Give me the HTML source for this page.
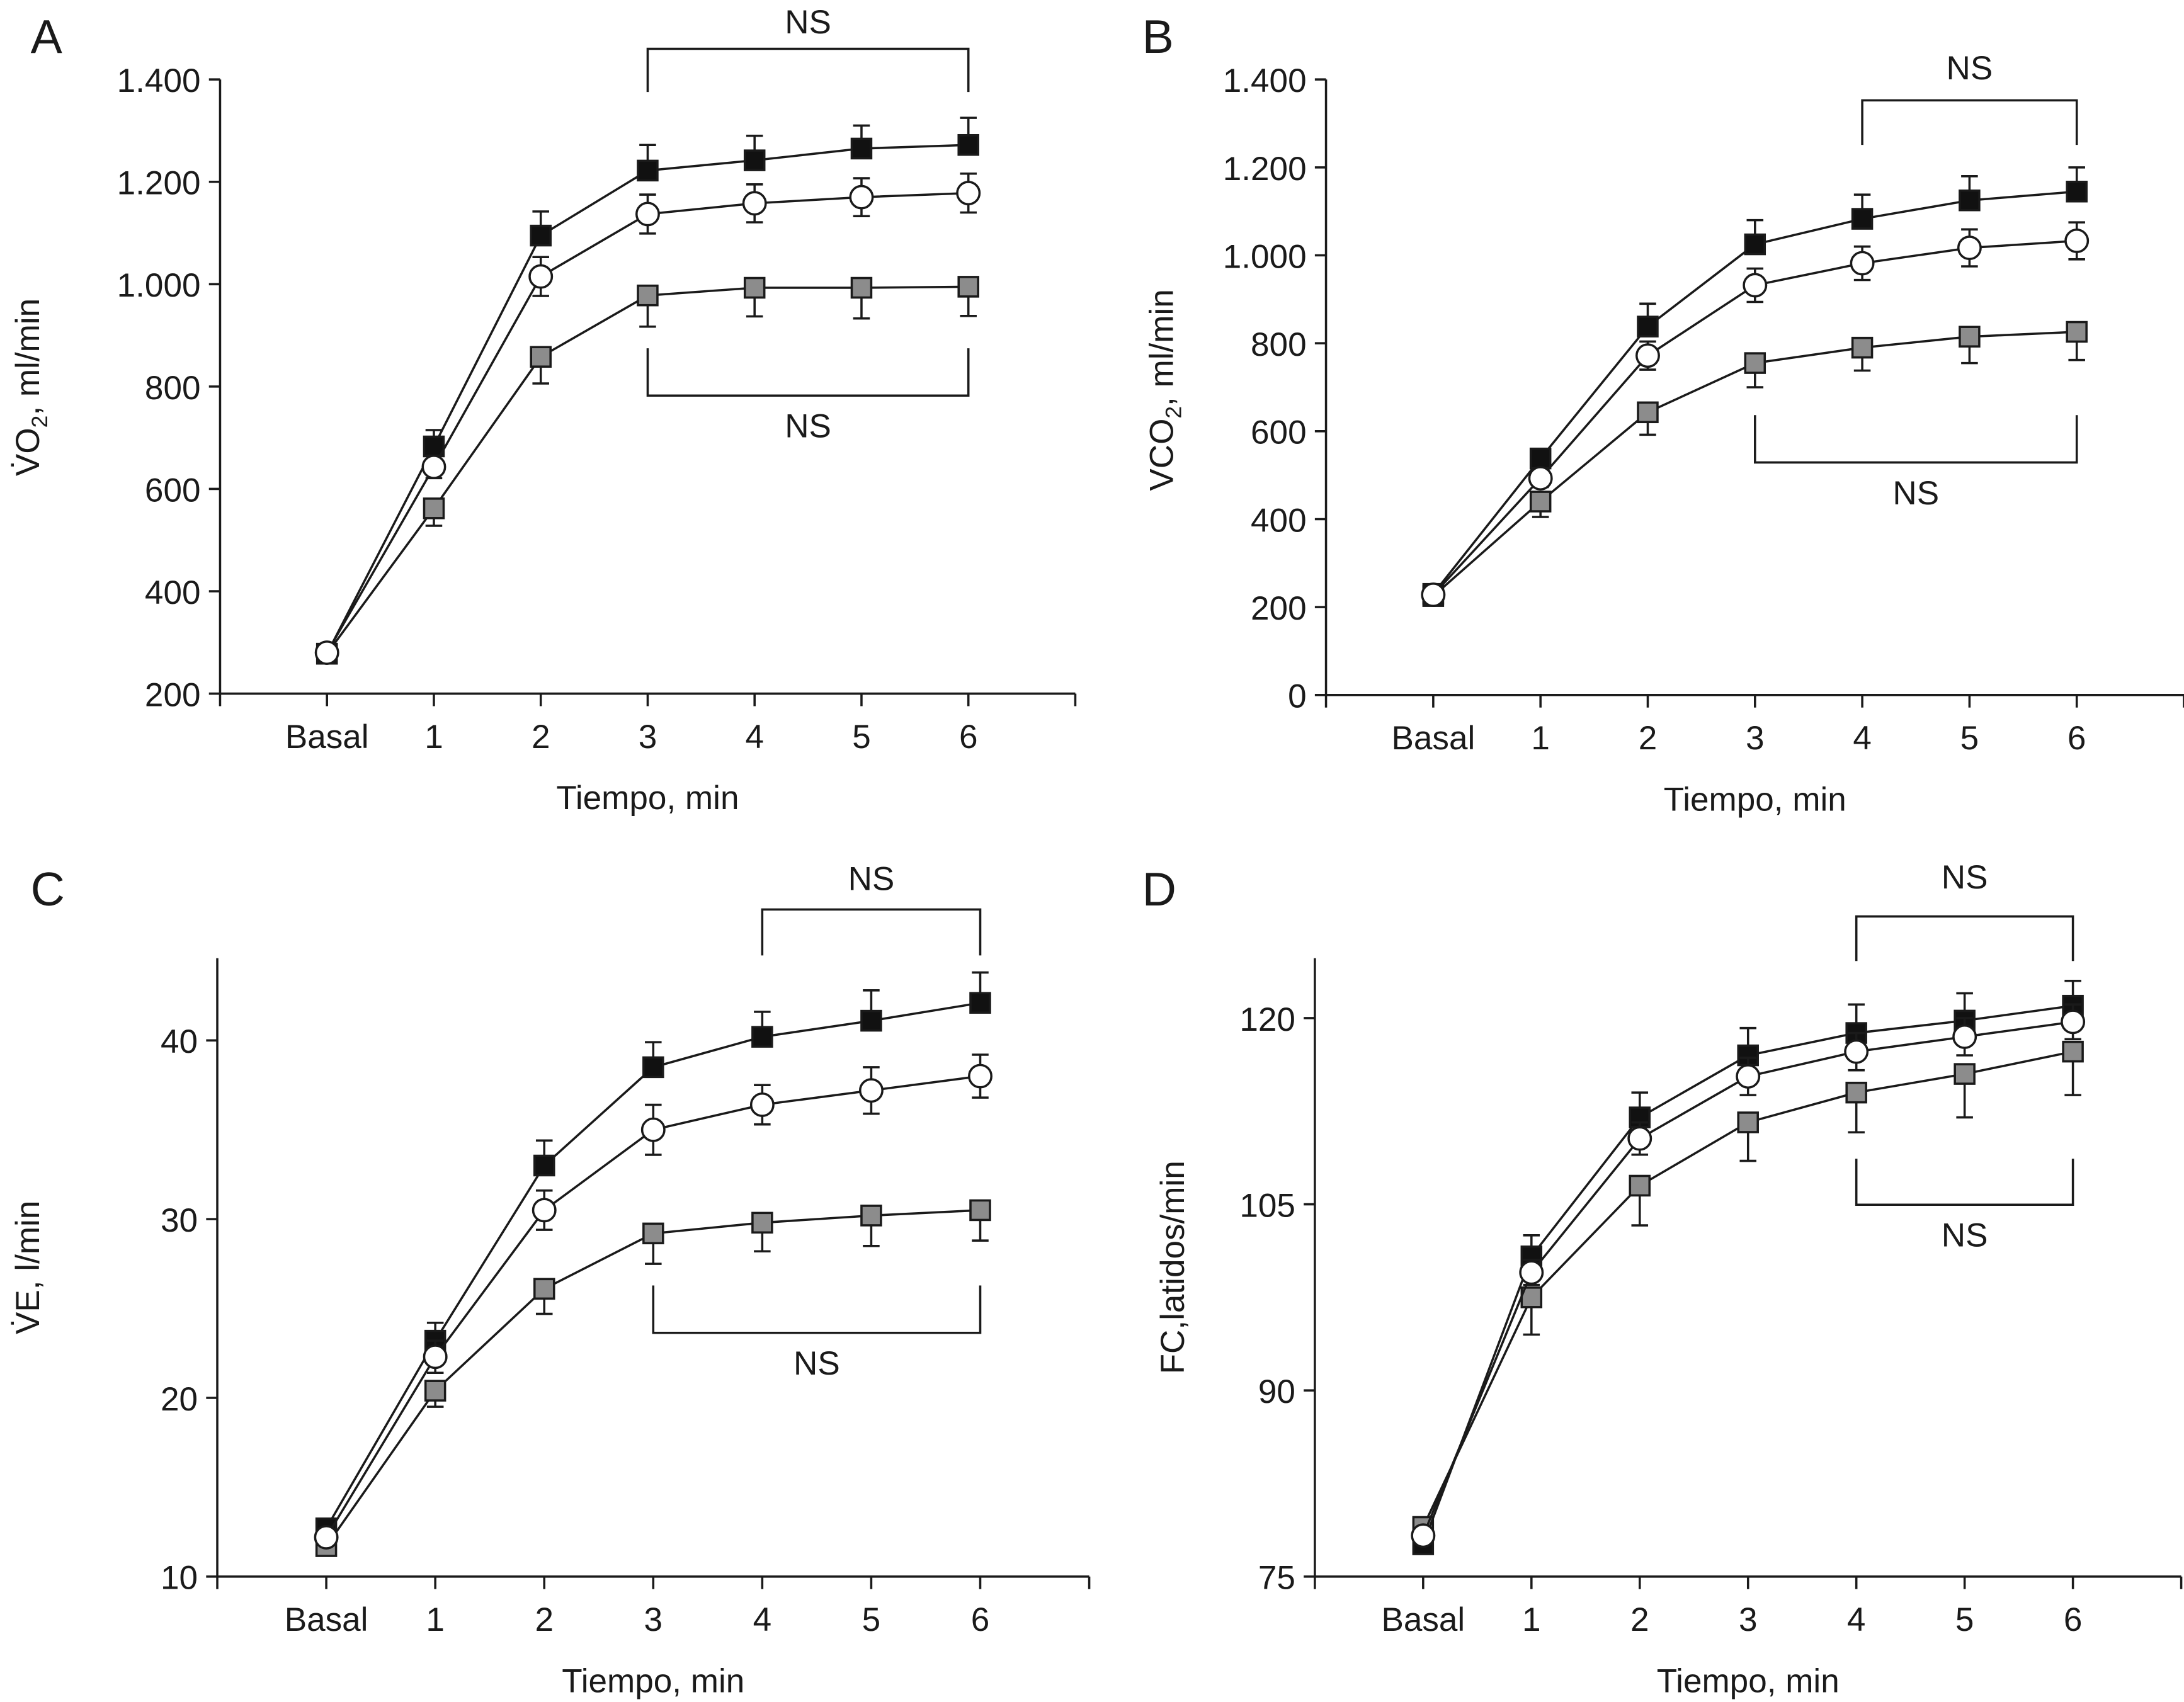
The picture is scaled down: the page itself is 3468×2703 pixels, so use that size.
<!DOCTYPE html>
<html><head><meta charset="utf-8"><style>
html,body{margin:0;padding:0;background:#fff;}
svg{display:block;}
text{font-family:"Liberation Sans",sans-serif;fill:#1a1a1a;}
</style></head><body>
<svg id="fig" width="3468" height="2703" viewBox="0 0 1568 1222" xmlns="http://www.w3.org/2000/svg"></svg>
<script>
const categories=["Basal","1","2","3","4","5","6"];
// Panel A VO2
const aBlack=[278,683,1095,1222,1242,1265,1272];
const aBlackErr=[0,32,47,50,48,45,53];
const aOpen=[280,643,1015,1137,1158,1170,1178];
const aOpenErr=[0,22,38,38,37,37,38];
const aGray=[278,562,858,978,993,993,995];
const aGrayErr=[0,34,52,61,56,60,57];
const aTicks=[200,400,600,800,1000,1200,1400];
const aTickLabels=["200","400","600","800","1.000","1.200","1.400"];
// Panel B VCO2
const bBlack=[230,538,838,1025,1083,1125,1145];
const bBlackErr=[0,22,52,55,55,55,55];
const bOpen=[228,493,772,932,982,1017,1033];
const bOpenErr=[0,20,32,38,38,42,42];
const bGray=[225,440,643,755,790,815,826];
const bGrayErr=[0,35,51,55,52,60,64];
const bTicks=[0,200,400,600,800,1000,1200,1400];
const bTickLabels=["0","200","400","600","800","1.000","1.200","1.400"];
// Panel C VE
const cBlack=[12.7,23.2,33.0,38.5,40.2,41.1,42.1];
const cBlackErr=[0,1.0,1.4,1.4,1.4,1.7,1.7];
const cOpen=[12.2,22.3,30.5,35.0,36.4,37.2,38.0];
const cOpenErr=[0,0.9,1.1,1.4,1.1,1.3,1.2];
const cGray=[11.7,20.4,26.1,29.2,29.8,30.2,30.5];
const cGrayErr=[0,0.9,1.4,1.7,1.6,1.7,1.7];
const cTicks=[10,20,30,40];
const cTickLabels=["10","20","30","40"];
// Panel D FC
const dBlack=[77.6,100.8,112.0,117.0,118.8,119.8,121.0];
const dBlackErr=[0,1.7,2.0,2.2,2.3,2.2,2.0];
const dOpen=[78.3,99.5,110.3,115.3,117.3,118.5,119.7];
const dOpenErr=[0,1.0,1.3,1.5,1.5,1.5,1.4];
const dGray=[79.0,97.5,106.5,111.6,114.0,115.5,117.3];
const dGrayErr=[0,3.0,3.2,3.1,3.2,3.5,3.5];
const dTicks=[75,90,105,120];
const dTickLabels=["75","90","105","120"];

const NS="http://www.w3.org/2000/svg";
const svg=document.getElementById('fig');
function mk(tag,attrs,parent){const e=document.createElementNS(NS,tag);for(const k in attrs)e.setAttribute(k,attrs[k]);(parent||svg).appendChild(e);return e;}

function panel(cfg){
  const g=mk('g',{});
  
  
  const xs=i=>cfg.x0+(i+1)*(cfg.x1-cfg.x0)/8;
  const ys=v=>cfg.yA+(v-cfg.vA)*(cfg.yB-cfg.yA)/(cfg.vB-cfg.vA);
  const st={stroke:'#1a1a1a','stroke-width':1.6,fill:'none'};
  const ya=mk('line',Object.assign({x1:cfg.x0,y1:cfg.yTop,x2:cfg.x0,y2:cfg.yBase},st),g);
  
  const xa=mk('line',Object.assign({x1:cfg.x0,y1:cfg.yBase,x2:cfg.x1,y2:cfg.yBase},st),g);
  
  cfg.ticks.forEach((t,i)=>{
    const y=ys(t);
    mk('line',Object.assign({x1:cfg.x0-8,y1:y,x2:cfg.x0,y2:y},st),g);
    const tx=mk('text',{x:cfg.x0-14,y:y+9,'text-anchor':'end','font-size':24},g);
    
    tx.textContent=cfg.tickLabels[i];
  });
  for(let i=-1;i<=7;i++){
    const x=cfg.x0+(i+1)*(cfg.x1-cfg.x0)/8;
    mk('line',Object.assign({x1:x,y1:cfg.yBase,x2:x,y2:cfg.yBase+9},st),g);
  }
  categories.forEach((c,i)=>{
    const tx=mk('text',{x:xs(i),y:cfg.yBase+39,'text-anchor':'middle','font-size':24},g);
    
    tx.textContent=c;
  });
  const xl=mk('text',{x:xs(3),y:cfg.yBase+83,'text-anchor':'middle','font-size':24},g);
  
  xl.textContent='Tiempo, min';
  const yl=mk('text',{x:0,y:0,'text-anchor':'middle','font-size':24,transform:`translate(${cfg.ylx},${cfg.yly}) rotate(-90)`},g);
  
  yl.innerHTML=cfg.ylabel;
  const pl=mk('text',{x:cfg.lx,y:cfg.ly,'font-size':34},g);
  
  pl.textContent=cfg.letter;
  cfg.brackets.forEach(b=>{
    const xa_=xs(b.from),xb=xs(b.to);
    const p=mk('path',Object.assign({d:`M${xa_},${b.yEnd} L${xa_},${b.yH} L${xb},${b.yH} L${xb},${b.yEnd}`},st),g);
    
    const t=mk('text',{x:(xa_+xb)/2,y:b.ty,'text-anchor':'middle','font-size':24},g);
    
    t.textContent='NS';
  });
  const series=[
    {v:cfg.gray,e:cfg.grayErr,kind:'gray',dir:1},
    {v:cfg.black,e:cfg.blackErr,kind:'black',dir:-1},
    {v:cfg.open,e:cfg.openErr,kind:'open',dir:0}
  ];
  series.forEach(s=>{
    const sg=mk('g',{},g);
    
    
    const d=s.v.map((v,i)=>(i?'L':'M')+xs(i)+','+ys(v)).join(' ');
    mk('path',{d:d,stroke:'#1a1a1a','stroke-width':1.6,fill:'none'},sg);
    s.v.forEach((v,i)=>{
      if(!s.e[i])return;
      const x=xs(i),y=ys(v);
      const ends=s.dir===0?[ys(v+s.e[i]),ys(v-s.e[i])]:[ys(v-s.dir*s.e[i])];
      ends.forEach(ye=>{
        mk('line',{x1:x,y1:y,x2:x,y2:ye,stroke:'#1a1a1a','stroke-width':1.6},sg);
        mk('line',{x1:x-6,y1:ye,x2:x+6,y2:ye,stroke:'#1a1a1a','stroke-width':1.6},sg);
      });
    });
    s.v.forEach((v,i)=>{
      const x=xs(i),y=ys(v);let m;
      if(s.kind==='open'){m=mk('circle',{cx:x,cy:y,r:8,fill:'#fff',stroke:'#1a1a1a','stroke-width':1.6},sg);}
      else{m=mk('rect',{x:x-7,y:y-7,width:14,height:14,fill:s.kind==='black'?'#111':'#8c8c8c',stroke:'#1a1a1a','stroke-width':1.6},sg);}
      
      
    });
  });
}

panel({name:'panel-a-vo2',letter:'A',lx:22,ly:38,x0:158,x1:772,yTop:57,yBase:498,yA:57,vA:1400,yB:498,vB:200,
 ticks:aTicks,tickLabels:aTickLabels,ylx:28,yly:278,ylabel:'V̇O<tspan font-size="16" dy="6">2</tspan><tspan dy="-6">, ml/min</tspan>',
 black:aBlack,blackErr:aBlackErr,open:aOpen,openErr:aOpenErr,gray:aGray,grayErr:aGrayErr,
 brackets:[{from:3,to:6,yH:35,yEnd:66,ty:24},{from:3,to:6,yH:284,yEnd:250,ty:314}]});
panel({name:'panel-b-vco2',letter:'B',lx:820,ly:38,x0:952,x1:1568,yTop:57,yBase:499,yA:57,vA:1400,yB:499,vB:0,
 ticks:bTicks,tickLabels:bTickLabels,ylx:842,yly:280,ylabel:'VCO<tspan font-size="16" dy="6">2</tspan><tspan dy="-6">, ml/min</tspan>',
 black:bBlack,blackErr:bBlackErr,open:bOpen,openErr:bOpenErr,gray:bGray,grayErr:bGrayErr,
 brackets:[{from:4,to:6,yH:72,yEnd:104,ty:57},{from:3,to:6,yH:332,yEnd:298,ty:362}]});
panel({name:'panel-c-ve',letter:'C',lx:22,ly:650,x0:156,x1:782,yTop:688,yBase:1132,yA:747,vA:40,yB:1132,vB:10,
 ticks:cTicks,tickLabels:cTickLabels,ylx:28,yly:910,ylabel:'V̇E, l/min',
 black:cBlack,blackErr:cBlackErr,open:cOpen,openErr:cOpenErr,gray:cGray,grayErr:cGrayErr,
 brackets:[{from:4,to:6,yH:653,yEnd:686,ty:639},{from:3,to:6,yH:957,yEnd:923,ty:987}]});
panel({name:'panel-d-fc',letter:'D',lx:820,ly:650,x0:944,x1:1566,yTop:688,yBase:1132,yA:731,vA:120,yB:1132,vB:75,
 ticks:dTicks,tickLabels:dTickLabels,ylx:850,yly:910,ylabel:'FC,latidos/min',
 black:dBlack,blackErr:dBlackErr,open:dOpen,openErr:dOpenErr,gray:dGray,grayErr:dGrayErr,
 brackets:[{from:4,to:6,yH:658,yEnd:690,ty:638},{from:4,to:6,yH:865,yEnd:832,ty:895}]});
</script>
</body></html>
